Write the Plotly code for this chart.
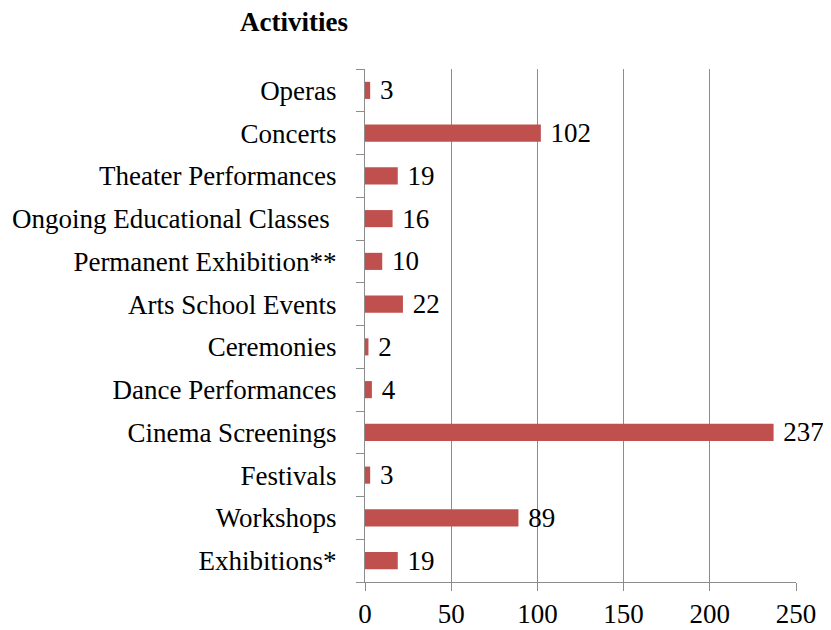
import plotly.graph_objects as go

categories = ["Exhibitions*", "Workshops", "Festivals", "Cinema Screenings",
              "Dance Performances", "Ceremonies", "Arts School Events",
              "Permanent Exhibition**", "Ongoing Educational Classes ",
              "Theater Performances", "Concerts", "Operas"]
values = [19, 89, 3, 237, 4, 2, 22, 10, 16, 19, 102, 3]
x_ticks = [0, 50, 100, 150, 200, 250]

FONT = "Liberation Serif"
FS = 27

fig = go.Figure(go.Bar(
    x=values, y=categories, orientation="h",
    marker=dict(color="#C0504D", line=dict(width=0)),
    width=0.4,
    texttemplate="\u00a0%{x}", textposition="outside",
    constraintext="none",
    textfont=dict(family=FONT, size=FS, color="black"),
    cliponaxis=False,
))

fig.update_layout(
    width=823, height=622,
    margin=dict(l=357, r=35, t=61, b=48, autoexpand=False),
    paper_bgcolor="white", plot_bgcolor="white",
    showlegend=False,
    font=dict(family=FONT, size=FS, color="black"),
    title=dict(text="<b>Activities</b>", x=0.282, xanchor="left", y=0.978, yanchor="middle",
               font=dict(family=FONT, size=FS, color="black")),
    bargap=0.6,
)
fig.update_xaxes(range=[0, 250], tickvals=x_ticks, showgrid=True, gridcolor="#8c8c8c",
                 gridwidth=1, showline=True, linecolor="#8c8c8c", linewidth=1,
                 ticks="outside", ticklen=8, tickcolor="#8c8c8c", zeroline=False,
                 automargin=False,
                 tickfont=dict(family=FONT, size=FS, color="black"))
fig.update_yaxes(categoryorder="array", categoryarray=categories, showline=True,
                 linecolor="#8c8c8c", linewidth=1, ticks="outside", tickson="boundaries",
                 ticklen=8, tickcolor="#8c8c8c", showgrid=False, ticklabelstandoff=22,
                 automargin=False,
                 tickfont=dict(family=FONT, size=FS, color="black"))

fig.write_html("out.html")
